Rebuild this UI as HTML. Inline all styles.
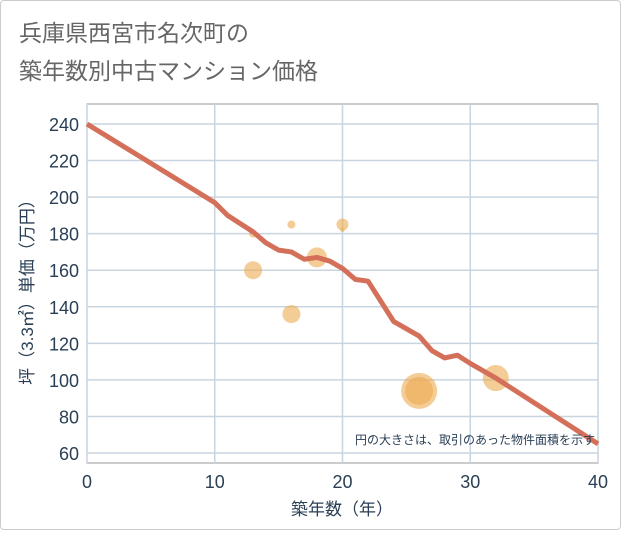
<!DOCTYPE html><html><head><meta charset="utf-8"><style>
body{margin:0;background:#fff;font-family:"Liberation Sans","Noto Sans CJK JP",sans-serif}
#w{position:relative;width:619px;height:528px;border:1px solid #ccc;border-radius:4px}
</style></head><body><div id="w">
<svg width="619" height="528" id="svg">
<text x="18" y="40" font-size="23" fill="#666">兵庫県西宮市名次町の</text>
<text x="18" y="78" font-size="23" fill="#666">築年数別中古マンション価格</text>
<g id="grid"></g><g id="bub"></g><g id="ln"></g><g id="ax"></g>
<text x="594" y="443" font-size="12" fill="#2a3f55" text-anchor="end">円の大きさは、取引のあった物件面積を示す</text>
<text x="341" y="514" font-size="17" fill="#2a3f55" text-anchor="middle">築年数（年）</text>
<text transform="translate(32,287) rotate(-90)" font-size="17" fill="#2a3f55" text-anchor="middle">坪（3.3㎡）単価（万円）</text>
</svg></div>
<script>
const lineX=[0,10,11,13,14,15,16,17,18,19,20,21,22,24,26,27,28,29,30,32,40];
const lineY=[240,197,190,181,175,171,170,166,167,165,161,155,154,132,124,116,112,113.5,109,101,65];
const bubX=[13,13,16,16,18,20,20,26,26,32];
const bubY=[180,160,185,136,167,185,182,94,94,101];
const bubR=[4,9,4,9,10,6,2,18,14,13];
const xTicks=[0,10,20,30,40];
const yTicks=[60,80,100,120,140,160,180,200,220,240];
const sx=v=>86+v*(597-86)/40, sy=v=>452-(v-60)*(452-123)/180;
const NS='http://www.w3.org/2000/svg';
function mk(p,t,a){const e=document.createElementNS(NS,t);for(const k in a)e.setAttribute(k,a[k]);document.getElementById(p).appendChild(e);return e;}
let r=mk('grid','rect',{x:86,y:103,width:511,height:359,fill:'none',stroke:'#999'});


yTicks.forEach(v=>{let l=mk('grid','line',{x1:86,x2:597,y1:sy(v),y2:sy(v),stroke:'#c8d4e0','stroke-width':1.5});


let t=mk('ax','text',{x:78,y:sy(v)+7,'font-size':18,fill:'#2a3f55','text-anchor':'end'});t.textContent=v;

});
xTicks.forEach(v=>{let l=mk('grid','line',{y1:103,y2:462,x1:sx(v),x2:sx(v),stroke:'#c8d4e0','stroke-width':1.5});


let t=mk('ax','text',{x:sx(v),y:487,'font-size':18,fill:'#2a3f55','text-anchor':'middle'});t.textContent=v;

});
bubX.forEach((x,i)=>{let c=mk('bub','circle',{cx:sx(x),cy:sy(bubY[i]),r:bubR[i],fill:'rgba(236,170,80,0.6)'});

});
let p=mk('ln','polyline',{points:lineX.map((x,i)=>sx(x)+','+sy(lineY[i])).join(' '),fill:'none',stroke:'#d4705a','stroke-width':5,'stroke-linejoin':'round'});


</script></body></html>
